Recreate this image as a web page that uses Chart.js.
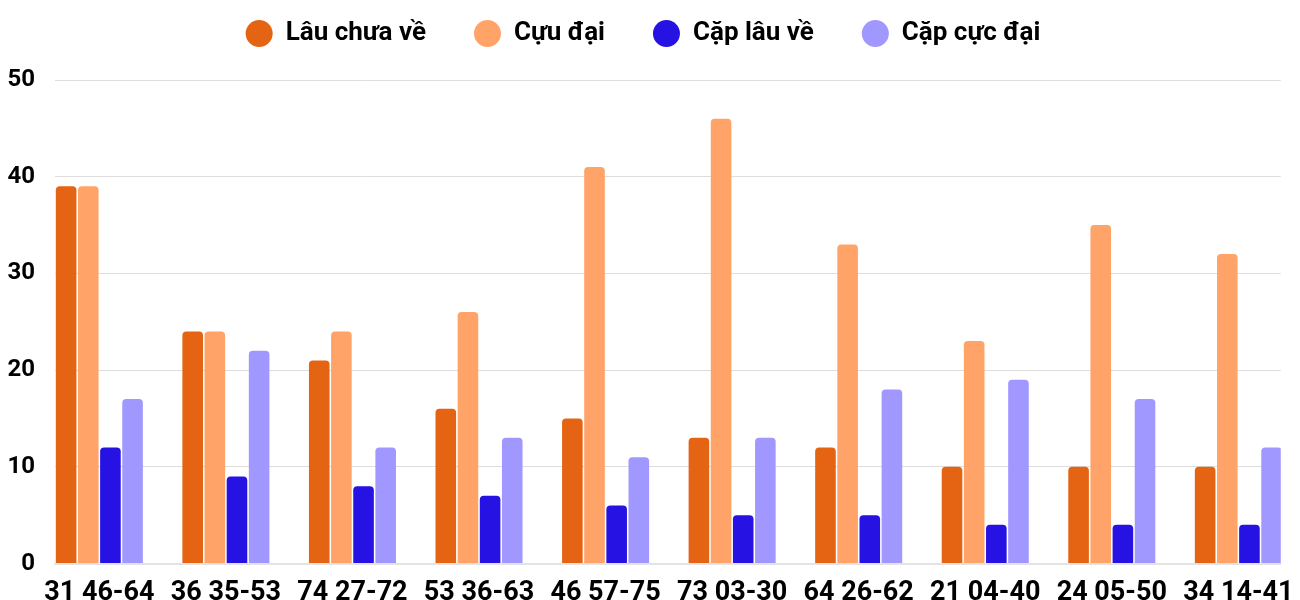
<!DOCTYPE html>
<html>
<head>
<meta charset="utf-8">
<script src="https://cdn.jsdelivr.net/npm/chart.js@4.4.1/dist/chart.umd.min.js"></script>
<style>
  body { margin: 0; background: #fff; }
  #wrap { width: 1300px; height: 600px; position: relative; }
</style>
</head>
<body>
<div id="wrap"><canvas id="grafico"></canvas></div>
<script>
// Nhãn trục x (mỗi nhóm cột)
const nhanX = [
  "31 46-64", "36 35-53", "74 27-72", "53 36-63", "46 57-75",
  "73 03-30", "64 26-62", "21 04-40", "24 05-50", "34 14-41"
];
const tenSeries = ["Lâu chưa về", "Cựu đại", "Cặp lâu về", "Cặp cực đại"];
const lauChuaVe = [39, 24, 21, 16, 15, 13, 12, 10, 10, 10];
const cuuDai = [39, 24, 24, 26, 41, 46, 33, 23, 35, 32];
const capLauVe = [12, 9, 8, 7, 6, 5, 5, 4, 4, 4];
const capCucDai = [17, 22, 12, 13, 11, 13, 18, 19, 17, 12];
const mauSeries = ["#e46414", "#ffa368", "#2612e2", "#a098ff"];
const yTicks = [0, 10, 20, 30, 40, 50];

Chart.defaults.font.family = "Roboto";
Chart.defaults.font.weight = "bold";
Chart.defaults.color = "#000";

// altura fija de la leyenda para dejar el área del gráfico donde toca
const alturaLeyenda = {
  id: "alturaLeyenda",
  beforeInit(chart) {
    const fitOriginal = chart.legend.fit;
    chart.legend.fit = function () {
      fitOriginal.bind(chart.legend)();
      this.height = 107.5;
    };
  },
};

function crearDataset(label, valores, color) {
  return {
    label: label,
    data: valores.map((v, i) => ({ x: i, y: v })),
    backgroundColor: color,
    borderRadius: { topLeft: 4, topRight: 4 },
    borderSkipped: "bottom",
    categoryPercentage: 0.7,
    barPercentage: 0.93,
  };
}

new Chart(document.getElementById("grafico"), {
  type: "bar",
  data: {
    datasets: [
      crearDataset(tenSeries[0], lauChuaVe, mauSeries[0]),
      crearDataset(tenSeries[1], cuuDai, mauSeries[1]),
      crearDataset(tenSeries[2], capLauVe, mauSeries[2]),
      crearDataset(tenSeries[3], capCucDai, mauSeries[3]),
    ],
  },
  plugins: [alturaLeyenda],
  options: {
    responsive: true,
    maintainAspectRatio: false,
    animation: false,
    layout: { padding: { left: 0, right: 14, top: -27.5, bottom: 0 } },
    plugins: {
      tooltip: { enabled: false },
      legend: {
        position: "top",
        labels: {
          usePointStyle: true,
          pointStyle: "circle",
          boxHeight: 19,
          pointStyleWidth: 27,
          padding: 48,
          font: { size: 26, weight: "bold" },
        },
      },
    },
    scales: {
      x: {
        type: "linear",
        offset: false,
        min: -0.3504,
        max: 9.335,
        grid: { display: false },
        border: { display: true, color: "#e3e3e3", width: 2 },
        afterBuildTicks: (scale) => {
          scale.ticks = nhanX.map((_, i) => ({ value: i }));
        },
        afterFit: (scale) => {
          scale.height = 36.5;
        },
        ticks: {
          autoSkip: false,
          maxRotation: 0,
          padding: 6,
          font: { size: 27, weight: "bold" },
          callback: (v) => nhanX[v],
        },
      },
      y: {
        min: 0,
        max: 50,
        afterBuildTicks: (scale) => {
          scale.ticks = yTicks.map((v) => ({ value: v }));
        },
        afterFit: (scale) => {
          scale.width = 55;
        },
        grid: { color: "#dddddd", drawTicks: false },
        border: { display: false },
        ticks: {
          padding: 20,
          font: { size: 24, weight: "bold" },
        },
      },
    },
  },
});
</script>
</body>
</html>
